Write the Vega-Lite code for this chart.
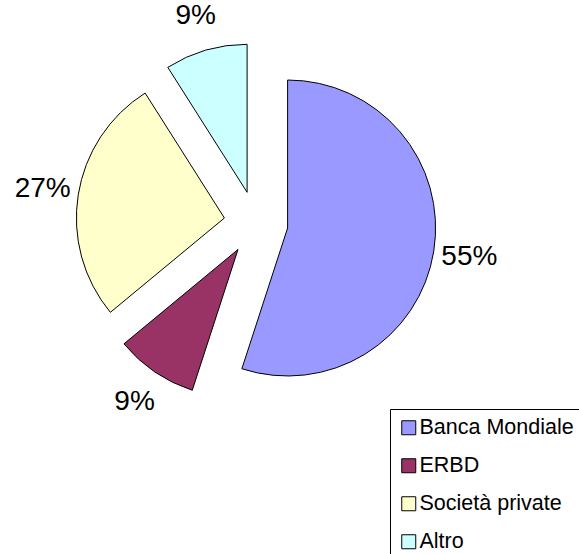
{
  "$schema": "https://vega.github.io/schema/vega-lite/v6.json",
  "width": 512,
  "height": 446,
  "padding": {"left": 0, "top": 0, "right": 67, "bottom": 108},
  "autosize": {"type": "none"},
  "background": "white",
  "config": {"view": {"stroke": null}},
  "data": {"values": [
    {"cat": "Banca Mondiale", "share": 0.55},
    {"cat": "ERBD", "share": 0.09},
    {"cat": "Società private", "share": 0.27},
    {"cat": "Altro", "share": 0.09}
  ]},
  "encoding": {
    "color": {
      "field": "cat", "type": "nominal",
      "scale": {"domain": ["Banca Mondiale", "ERBD", "Società private", "Altro"], "range": ["#9999FF", "#993366", "#FFFFCC", "#CCFFFF"]},
      "legend": {
        "orient": "none", "legendX": 390, "legendY": 409, "title": null,
        "labelFontSize": 21.5, "labelFont": "Liberation Sans", "labelColor": "black",
        "symbolType": "square", "symbolSize": 196, "symbolStrokeColor": "black", "symbolStrokeWidth": 1,
        "strokeColor": "black", "fillColor": "white", "padding": 8, "rowPadding": 15, "labelOffset": 0,
        "labelLimit": 400
      }
    }
  },
  "layer": [
    {
      "transform": [{"stack": "share", "groupby": [], "as": ["t0", "t1"]}, {"filter": "datum.cat === 'Banca Mondiale'"}],
      "mark": {"type": "arc", "outerRadius": 148, "stroke": "black", "strokeWidth": 1, "xOffset": 31.6, "yOffset": 5},
      "encoding": {"theta": {"field": "t0", "type": "quantitative", "scale": {"domain": [0, 1]}}, "theta2": {"field": "t1"}}
    },
    {
      "transform": [{"stack": "share", "groupby": [], "as": ["t0", "t1"]}, {"filter": "datum.cat === 'ERBD'"}],
      "mark": {"type": "arc", "outerRadius": 148, "stroke": "black", "strokeWidth": 1, "xOffset": -18, "yOffset": 26.5},
      "encoding": {"theta": {"field": "t0", "type": "quantitative", "scale": {"domain": [0, 1]}}, "theta2": {"field": "t1"}}
    },
    {
      "transform": [{"stack": "share", "groupby": [], "as": ["t0", "t1"]}, {"filter": "datum.cat === 'Società private'"}],
      "mark": {"type": "arc", "outerRadius": 148, "stroke": "black", "strokeWidth": 1, "xOffset": -31.6, "yOffset": -5},
      "encoding": {"theta": {"field": "t0", "type": "quantitative", "scale": {"domain": [0, 1]}}, "theta2": {"field": "t1"}}
    },
    {
      "transform": [{"stack": "share", "groupby": [], "as": ["t0", "t1"]}, {"filter": "datum.cat === 'Altro'"}],
      "mark": {"type": "arc", "outerRadius": 148, "stroke": "black", "strokeWidth": 1, "xOffset": -8.9, "yOffset": -30.7},
      "encoding": {"theta": {"field": "t0", "type": "quantitative", "scale": {"domain": [0, 1]}}, "theta2": {"field": "t1"}}
    },
    {
      "transform": [{"window": [{"op": "row_number", "as": "rank"}]}],
      "mark": {"type": "text", "radius": 216, "fontSize": 28, "font": "Liberation Sans", "color": "black"},
      "encoding": {
        "theta": {"field": "share", "type": "quantitative", "stack": true, "scale": {"domain": [0, 1]}},
        "order": {"field": "rank", "type": "quantitative"},
        "text": {"field": "share", "type": "quantitative", "format": ".0%"},
        "color": {"value": "black"}
      }
    }
  ]
}
